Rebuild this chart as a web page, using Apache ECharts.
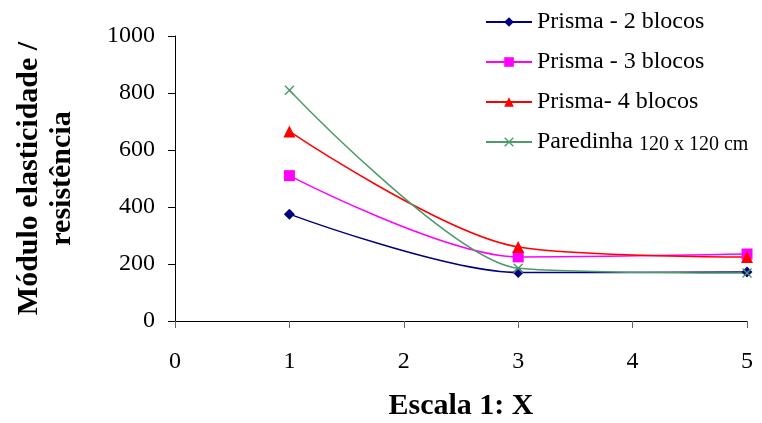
<!DOCTYPE html>
<html>
<head>
<meta charset="utf-8">
<script src="https://cdn.jsdelivr.net/npm/echarts@6/dist/echarts.min.js"></script>
<style>html,body{margin:0;padding:0;background:#fff}#c{width:762px;height:423px}</style>
</head>
<body>
<div id="c"></div>
<script>
var xValues = [1, 3, 5];
var prisma2 = [375, 170, 172];
var prisma3 = [510, 225, 235];
var prisma4 = [665, 260, 225];
var paredinha = [810, 185, 168];
var seriesNames = ['Prisma - 2 blocos', 'Prisma - 3 blocos', 'Prisma- 4 blocos', 'Paredinha 120 x 120 cm'];
var xTicks = [0, 1, 2, 3, 4, 5];
var yTicks = [0, 200, 400, 600, 800, 1000];

function pairs(vals) { return xValues.map(function (x, i) { return [x, vals[i]]; }); }

var FONT = '"Liberation Serif", "Times New Roman", serif';
var crossPath = 'path://M0,1 L1,0 L5,4 L9,0 L10,1 L6,5 L10,9 L9,10 L5,6 L1,10 L0,9 L4,5 Z';

function mk(name, vals, color, symbol, size, smooth) {
  return {
    name: name, type: 'line', smooth: smooth, data: pairs(vals),
    symbol: symbol, symbolSize: size, showSymbol: true,
    lineStyle: { color: color, width: 1.5 },
    itemStyle: { color: color },
    emphasis: { disabled: true }
  };
}

var chart = echarts.init(document.getElementById('c'));
chart.setOption({
  animation: false,
  backgroundColor: '#fff',
  grid: { left: 175, right: 15, top: 36, bottom: 102, outerBoundsMode: 'none', containLabel: false },
  legend: {
    orient: 'vertical', left: 480, top: 3,
    itemWidth: 46, itemHeight: 12, itemGap: 12,
    data: seriesNames,
    textStyle: { fontFamily: FONT, fontSize: 24, color: '#000', lineHeight: 28,
      rich: { a: { fontFamily: FONT, fontSize: 24, color: '#000', lineHeight: 28 }, b: { fontFamily: FONT, fontSize: 20, color: '#000', lineHeight: 28, padding: [6, 0, 0, 0] } } },
    formatter: function (n) {
      if (n.indexOf('Paredinha') === 0) return '{a|Paredinha} {b|120 x 120 cm}';
      return n;
    }
  },
  xAxis: {
    type: 'value', min: 0, max: 5, interval: 1,
    name: 'Escala 1: X', nameLocation: 'middle', nameGap: 70,
    nameTextStyle: { fontFamily: FONT, fontSize: 30, fontWeight: 'bold', color: '#000' },
    axisLine: { lineStyle: { color: '#000', width: 1 } },
    axisTick: { show: true, length: 7, lineStyle: { color: '#666' } },
    axisLabel: { fontFamily: FONT, fontSize: 24, color: '#000', margin: 29,
      formatter: function (v) { return xTicks.indexOf(v) >= 0 ? String(v) : ''; } },
    splitLine: { show: false }
  },
  yAxis: {
    type: 'value', min: 0, max: 1000, interval: 200,
    name: 'Módulo elasticidade /\nresistência', nameLocation: 'middle', nameGap: 96, nameRotate: 90,
    nameTextStyle: { fontFamily: FONT, fontSize: 30, fontWeight: 'bold', color: '#000', lineHeight: 33 },
    axisLine: { show: true, lineStyle: { color: '#000', width: 1 } },
    axisTick: { show: true, length: 7, lineStyle: { color: '#000' } },
    axisLabel: { fontFamily: FONT, fontSize: 24, color: '#000', margin: 20,
      formatter: function (v) { return yTicks.indexOf(v) >= 0 ? String(v) : ''; } },
    splitLine: { show: false }
  },
  series: [
    mk(seriesNames[0], prisma2, '#000080', 'diamond', 11, 0.3),
    mk(seriesNames[1], prisma3, '#FF00FF', 'rect', 11, 0.3),
    mk(seriesNames[2], prisma4, '#FF0000', 'triangle', 12, 0.3),
    mk(seriesNames[3], paredinha, '#4E9A6A', crossPath, 10, 0.25)
  ]
});
</script>
</body>
</html>
